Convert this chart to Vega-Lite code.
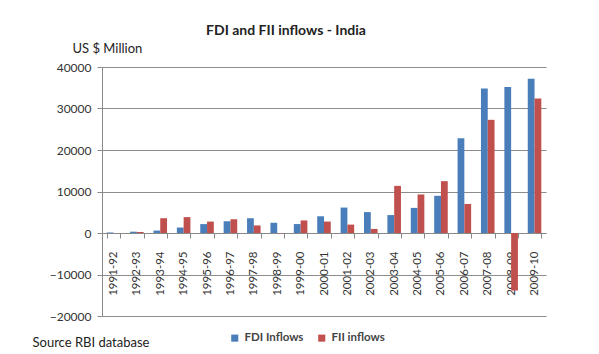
{
  "$schema": "https://vega.github.io/schema/vega-lite/v6.json",
  "width": 444,
  "height": 249,
  "autosize": "none",
  "padding": {"left": 102, "top": 67, "right": 53, "bottom": 38},
  "background": "white",
  "title": {
    "text": "FDI and FII inflows - India",
    "font": "Lato",
    "fontSize": 14,
    "fontWeight": "bold",
    "color": "#222222",
    "anchor": "middle",
    "dx": -38,
    "dy": 20,
    "offset": 24
  },
  "data": {
    "values": [
      {"year": "1991-92", "series": "FDI Inflows", "value": 129},
      {"year": "1991-92", "series": "FII inflows", "value": 4},
      {"year": "1992-93", "series": "FDI Inflows", "value": 315},
      {"year": "1992-93", "series": "FII inflows", "value": 244},
      {"year": "1993-94", "series": "FDI Inflows", "value": 586},
      {"year": "1993-94", "series": "FII inflows", "value": 3567},
      {"year": "1994-95", "series": "FDI Inflows", "value": 1314},
      {"year": "1994-95", "series": "FII inflows", "value": 3824},
      {"year": "1995-96", "series": "FDI Inflows", "value": 2144},
      {"year": "1995-96", "series": "FII inflows", "value": 2748},
      {"year": "1996-97", "series": "FDI Inflows", "value": 2821},
      {"year": "1996-97", "series": "FII inflows", "value": 3312},
      {"year": "1997-98", "series": "FDI Inflows", "value": 3557},
      {"year": "1997-98", "series": "FII inflows", "value": 1828},
      {"year": "1998-99", "series": "FDI Inflows", "value": 2462},
      {"year": "1998-99", "series": "FII inflows", "value": -61},
      {"year": "1999-00", "series": "FDI Inflows", "value": 2155},
      {"year": "1999-00", "series": "FII inflows", "value": 3026},
      {"year": "2000-01", "series": "FDI Inflows", "value": 4029},
      {"year": "2000-01", "series": "FII inflows", "value": 2760},
      {"year": "2001-02", "series": "FDI Inflows", "value": 6130},
      {"year": "2001-02", "series": "FII inflows", "value": 2021},
      {"year": "2002-03", "series": "FDI Inflows", "value": 5035},
      {"year": "2002-03", "series": "FII inflows", "value": 979},
      {"year": "2003-04", "series": "FDI Inflows", "value": 4322},
      {"year": "2003-04", "series": "FII inflows", "value": 11356},
      {"year": "2004-05", "series": "FDI Inflows", "value": 6051},
      {"year": "2004-05", "series": "FII inflows", "value": 9287},
      {"year": "2005-06", "series": "FDI Inflows", "value": 8961},
      {"year": "2005-06", "series": "FII inflows", "value": 12492},
      {"year": "2006-07", "series": "FDI Inflows", "value": 22826},
      {"year": "2006-07", "series": "FII inflows", "value": 7003},
      {"year": "2007-08", "series": "FDI Inflows", "value": 34835},
      {"year": "2007-08", "series": "FII inflows", "value": 27271},
      {"year": "2008-09", "series": "FDI Inflows", "value": 35180},
      {"year": "2008-09", "series": "FII inflows", "value": -13855},
      {"year": "2009-10", "series": "FDI Inflows", "value": 37182},
      {"year": "2009-10", "series": "FII inflows", "value": 32396}
    ]
  },
  "mark": {"type": "bar"},
  "encoding": {
    "x": {
      "field": "year",
      "type": "nominal",
      "sort": null,
      "scale": {"paddingInner": 0.42, "paddingOuter": 0.2},
      "axis": {
        "title": "Source RBI database",
        "titleFont": "Lato",
        "titleFontSize": 13,
        "titleFontWeight": "normal",
        "titleColor": "#222222",
        "titleAlign": "left",
        "titleBaseline": "middle",
        "titleAngle": 0,
        "titleX": -70,
        "titleY": 109,
        "offset": -83,
        "labelAngle": -90,
        "labelFont": "Lato",
        "labelFontSize": 11.5,
        "labelColor": "#333333",
        "labelPadding": 13,
        "labelAlign": "right",
        "labelBaseline": "middle",
        "tickBand": "extent",
        "tickSize": 5,
        "tickColor": "#888888",
        "domainColor": "#888888",
        "grid": false
      }
    },
    "xOffset": {"field": "series", "type": "nominal", "scale": {"paddingInner": 0, "paddingOuter": 0}},
    "y": {
      "field": "value",
      "type": "quantitative",
      "scale": {"domain": [-20000, 40000], "nice": false, "zero": false},
      "axis": {
        "values": [-20000, -10000, 0, 10000, 20000, 30000, 40000],
        "format": "d",
        "title": "US $ Million",
        "titleFont": "Lato",
        "titleFontSize": 13,
        "titleFontWeight": "normal",
        "titleColor": "#222222",
        "titleAngle": 0,
        "titleAlign": "left",
        "titleBaseline": "middle",
        "titleX": -30,
        "titleY": -19,
        "labelFont": "Lato",
        "labelFontSize": 12,
        "labelColor": "#333333",
        "labelPadding": 6,
        "tickSize": 5,
        "tickColor": "#888888",
        "domainColor": "#888888",
        "grid": true,
        "gridColor": "#8c8c8c"
      }
    },
    "color": {
      "field": "series",
      "type": "nominal",
      "scale": {"domain": ["FDI Inflows", "FII inflows"], "range": ["#4a7ebb", "#c0504d"]},
      "legend": {
        "title": null,
        "orient": "none",
        "direction": "horizontal",
        "legendX": 127,
        "legendY": 265,
        "symbolType": "square",
        "symbolSize": 50,
        "symbolStrokeWidth": 0,
        "labelFont": "Lato",
        "labelFontSize": 11.5,
        "labelFontWeight": "bold",
        "labelColor": "#444444",
        "columnPadding": 12
      }
    }
  },
  "config": {"view": {"stroke": null}}
}
